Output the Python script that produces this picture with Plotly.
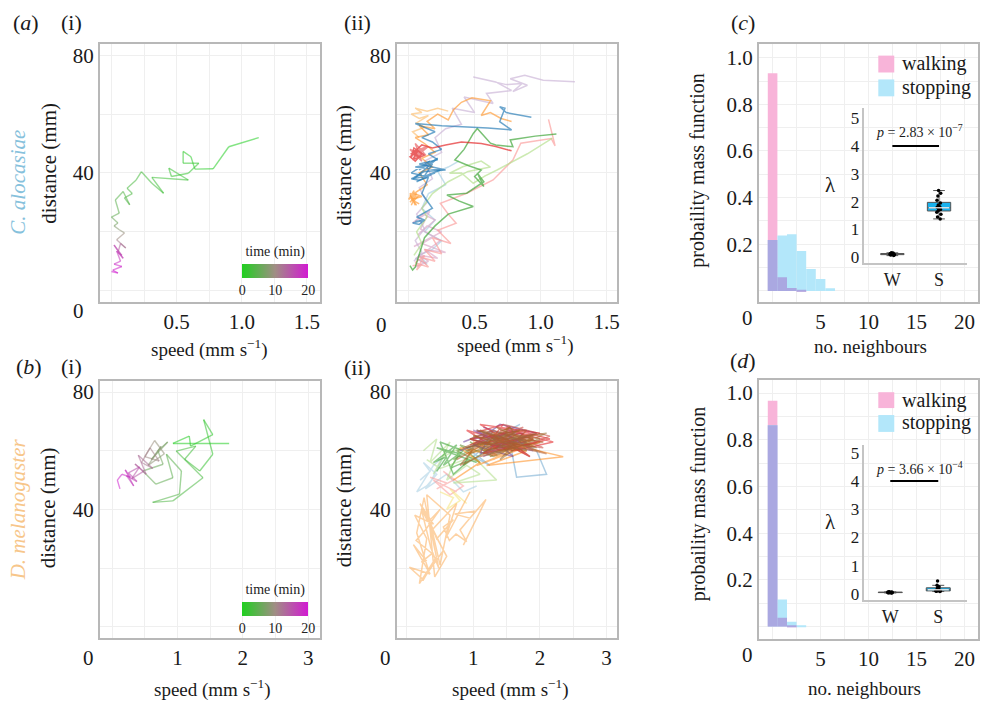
import plotly.graph_objects as go
import numpy as np

W, H = 982, 704
FONT = "Liberation Serif, Times New Roman, DejaVu Serif, serif"


def fx(p):
    return p / W


def fy(p):
    return 1 - p / H


# ---------------- data ----------------
# (a)(i) C. alocasiae single individual: speed, distance, time
a1_speed = [1.13, 0.90, 0.78, 0.64, 0.61, 0.55, 0.55, 0.67, 0.59, 0.46,
            0.44, 0.59, 0.31, 0.40, 0.31, 0.23, 0.19, 0.12, 0.16, 0.10,
            0.14, 0.09, 0.03, 0.06, 0.00, 0.05, 0.02, 0.06, 0.10, 0.04,
            0.11, 0.07, 0.05, 0.08, 0.02, 0.09, 0.04, 0.07, 0.02, 0.08,
            0.01, 0.05, 0.00]
a1_dist = [52.0, 48.9, 41.4, 41.3, 45.5, 47.3, 43.3, 43.3, 39.9, 38.8,
           41.6, 37.6, 38.5, 33.1, 36.5, 40.4, 37.6, 34.8, 33.0, 31.5,
           29.2, 33.7, 30.8, 26.3, 25.0, 23.0, 22.0, 20.7, 19.6, 17.3,
           14.5, 16.0, 13.0, 12.0, 15.5, 11.0, 13.5, 10.0, 9.0, 8.2,
           7.0, 6.0, 6.5]
a1_time = [0, 0.2, 0.4, 0.6, 0.8, 1.0, 1.2, 1.4, 1.6, 1.8,
           2.0, 2.2, 2.4, 2.6, 2.8, 3.0, 3.2, 3.4, 3.6, 3.8,
           4.0, 4.3, 4.6, 5.0, 5.5, 6.5, 7.5, 8.5, 9.5, 10.5,
           12.0, 13.0, 14.0, 15.0, 15.8, 16.5, 17.2, 17.8, 18.4, 19.0,
           19.4, 19.7, 20.0]

# (b)(i) D. melanogaster single individual
b1_speed = [1.79, 0.93, 1.18, 1.20, 1.54, 1.40, 1.54, 1.34, 1.11, 1.28,
            0.98, 1.39, 0.93, 0.62, 1.03, 1.06, 0.83, 0.93, 0.67, 0.47,
            0.78, 0.70, 0.85, 0.60, 0.75, 0.55, 0.80, 0.65, 0.50, 0.72,
            0.58, 0.45, 0.62, 0.40, 0.52, 0.35, 0.48, 0.30, 0.42, 0.25,
            0.38, 0.22, 0.33, 0.20, 0.28, 0.15, 0.08, 0.12]
b1_dist = [62.5, 62.5, 65.0, 61.6, 65.5, 70.6, 58.8, 53.1, 57.1, 61.6,
           59.9, 50.8, 42.9, 42.4, 45.2, 53.1, 58.8, 50.8, 48.6, 53.1,
           55.4, 60.0, 63.0, 57.0, 61.5, 55.0, 59.0, 63.5, 58.0, 56.5,
           61.0, 56.0, 54.0, 58.5, 52.0, 55.5, 53.0, 50.5, 54.5, 52.5,
           49.5, 51.5, 48.0, 53.5, 51.0, 52.0, 50.0, 47.0]
b1_time = [0, 0.3, 0.6, 0.9, 1.2, 1.5, 1.8, 2.1, 2.4, 2.7,
           3.0, 3.3, 3.6, 3.9, 4.2, 4.5, 4.8, 5.1, 5.4, 5.7,
           6.0, 6.5, 7.0, 7.5, 8.0, 8.5, 9.0, 9.5, 10.0, 10.5,
           11.0, 11.5, 12.0, 12.5, 13.0, 13.5, 14.0, 14.5, 15.0, 15.5,
           16.0, 16.5, 17.0, 17.5, 18.0, 18.7, 19.3, 20.0]

# (a)(ii) C. alocasiae, all individuals
a2_lpurple_x = [1.26, 1.02, 0.88, 0.77, 0.90, 0.79, 0.86, 0.74, 0.49, 0.66,
                0.78, 0.59, 0.64, 0.42, 0.50, 0.33, 0.40, 0.28, 0.20, 0.25,
                0.12, 0.18, 0.08, 0.14, 0.06, 0.12, 0.05, 0.10, 0.04]
a2_lpurple_y = [71.0, 71.5, 73.2, 72.0, 69.8, 67.6, 70.4, 70.0, 72.6, 70.9,
                68.0, 67.0, 63.6, 65.8, 60.5, 62.0, 56.5, 55.0, 52.0, 47.0,
                44.0, 38.0, 35.0, 30.0, 26.0, 21.0, 17.0, 13.0, 10.0]
a2_orange_x = [0.78, 0.70, 0.62, 0.55, 0.62, 0.48, 0.40, 0.34, 0.30, 0.22,
               0.14, 0.20, 0.08, 0.15, 0.05, 0.12, 0.20, 0.10, 0.18, 0.08,
               0.14, 0.04, 0.10, 0.02, 0.08, 0.04, 0.01, 0.06]
a2_orange_y = [57.5, 58.5, 60.5, 59.5, 64.5, 65.5, 64.0, 61.5, 58.0, 60.0,
               57.5, 55.0, 56.0, 53.0, 52.0, 50.0, 47.0, 45.0, 42.0, 40.0,
               36.0, 33.0, 32.0, 31.0, 29.5, 30.5, 32.5, 29.0]
a2_orange2_x = [0.01, 0.05, 0.02, 0.06, 0.00, 0.04, 0.03, 0.07, 0.01, 0.05]
a2_orange2_y = [30, 32, 29, 33, 31, 34, 30, 32, 33, 29]
a2_blue_x = [0.93, 0.74, 0.69, 0.73, 0.69, 0.78, 0.60, 0.41, 0.25, 0.05,
             0.12, 0.20, 0.10, 0.18, 0.25, 0.15, 0.22, 0.08, 0.18, 0.28,
             0.12, 0.04, 0.10, 0.02, 0.08, 0.15, 0.10, 0.18, 0.06, 0.12,
             0.03, 0.08, 0.12, 0.05]
a2_blue_y = [58.9, 60.5, 62.5, 62.0, 57.4, 54.6, 55.3, 55.7, 56.0, 56.8,
             55.5, 54.0, 52.0, 50.5, 48.0, 46.5, 44.5, 43.0, 42.0, 41.0,
             40.5, 38.5, 39.5, 38.0, 37.5, 38.5, 33.0, 28.0, 25.0, 24.0,
             23.0, 22.5, 24.0, 23.5]
a2_blue2_x = [0.03, 0.15, 0.06, 0.20, 0.10, 0.24, 0.05, 0.18, 0.12, 0.02,
              0.16, 0.08, 0.22, 0.04]
a2_blue2_y = [38, 39, 37, 40, 38.5, 41, 42, 43, 39, 40, 44, 41, 45, 38]
a2_green_x = [1.12, 0.96, 0.77, 0.79, 0.66, 0.62, 0.52, 0.49, 0.42, 0.35,
              0.45, 0.55, 0.50, 0.57, 0.52, 0.57, 0.44, 0.29, 0.38, 0.49,
              0.30, 0.20, 0.12, 0.08, 0.05, 0.03, 0.01]
a2_green_y = [53.2, 52.5, 51.2, 48.9, 49.5, 50.1, 55.1, 53.4, 48.0, 44.4,
              42.5, 41.0, 38.8, 35.4, 40.0, 37.0, 33.1, 32.5, 30.5, 28.6,
              26.0, 22.0, 18.0, 12.0, 8.0, 7.0, 8.5]
a2_red_x = [0.78, 0.66, 0.55, 0.40, 0.28, 0.18, 0.10, 0.04, 0.08, 0.02,
            0.06, 0.12, 0.03, 0.07, 0.01, 0.05, 0.10, 0.04, 0.02]
a2_red_y = [47.5, 49.0, 50.0, 50.5, 49.5, 48.5, 49.5, 47.0, 45.5, 46.5,
            48.0, 46.0, 44.5, 47.5, 45.5, 44.0, 46.5, 48.5, 45.0]
a2_red2_x = [0.02, 0.12, 0.04, 0.15, 0.06, 0.10, 0.01, 0.13, 0.05, 0.09, 0.03, 0.14]
a2_red2_y = [46, 48, 45, 49, 47, 44, 48, 46, 50, 45, 47, 49]
a2_pink_x = [1.06, 1.11, 1.08, 0.85, 0.79, 0.64, 0.44, 0.24, 0.30, 0.36,
             0.22, 0.32, 0.18, 0.25, 0.12, 0.20, 0.08, 0.15, 0.05, 0.12,
             0.06, 0.10, 0.03]
a2_pink_y = [58.2, 49.2, 51.7, 50.1, 44.4, 37.6, 33.1, 29.7, 26.0, 22.9,
             20.5, 16.0, 18.0, 12.5, 14.0, 10.0, 11.5, 8.0, 9.5, 12.0,
             7.0, 9.0, 8.5]
a2_mauve_x = [0.05, 0.15, 0.08, 0.22, 0.12, 0.28, 0.10, 0.18, 0.04, 0.25,
              0.14, 0.07, 0.20, 0.11, 0.03, 0.16, 0.09, 0.24, 0.06, 0.13]
a2_mauve_y = [8, 10, 12, 11, 14, 13, 16, 18, 15, 20, 22, 19, 24, 26, 23, 27, 21, 17, 11, 9]
a2_lgreen_x = [1.09, 0.90, 0.67, 0.58, 0.49, 0.40, 0.31, 0.41, 0.55, 0.62,
               0.45, 0.30, 0.18, 0.10, 0.14, 0.06, 0.10, 0.04]
a2_lgreen_y = [51.8, 46.5, 41.0, 39.0, 36.5, 40.0, 39.9, 42.1, 44.0, 42.0,
               40.5, 37.0, 33.0, 28.0, 25.0, 20.0, 16.0, 12.0]
a2_lorange_x = [0.30, 0.22, 0.14, 0.05, 0.10, 0.02, 0.08, 0.15, 0.06, 0.12, 0.03, 0.08]
a2_lorange_y = [61.0, 62.0, 61.0, 62.0, 60.5, 60.0, 58.5, 59.5, 57.0, 55.5, 54.0, 52.0]
a2_lblue_x = [0.38, 0.30, 0.22, 0.28, 0.15, 0.10, 0.20, 0.12, 0.25, 0.18, 0.08, 0.14, 0.05]
a2_lblue_y = [44.0, 42.0, 40.5, 36.0, 33.0, 28.0, 24.0, 20.0, 17.0, 14.0, 12.0, 9.0, 11.0]

# (b)(ii) D. melanogaster, all individuals
b2_lorange_x = [0.85, 1.19, 0.95, 0.72, 1.04, 0.80, 0.90, 0.74, 0.64, 0.55,
                0.70, 0.45, 0.34, 0.50, 0.28, 0.14, 0.38, 0.22, 0.29, 0.10,
                0.35, 0.04, 0.25, 0.45, 0.19, 0.30, 0.12, 0.40, 0.20, 0.55,
                0.33, 0.15, 0.26, 0.48, 0.36, 0.22, 0.60, 0.42, 0.30, 0.65,
                0.50, 0.38, 0.75, 0.58, 0.95]
b2_lorange_y = [27.8, 43.4, 37.0, 38.4, 39.5, 33.0, 29.0, 31.6, 29.4, 34.0,
                36.5, 30.0, 36.2, 40.0, 33.0, 29.4, 25.0, 22.0, 22.6, 28.0,
                18.0, 20.3, 16.0, 24.0, 14.7, 30.0, 38.0, 35.0, 42.0, 26.0,
                19.0, 32.0, 44.0, 20.0, 27.0, 40.0, 24.0, 17.0, 45.0, 38.0,
                21.0, 33.0, 42.0, 30.0, 46.0]
b2_lblue_x = [0.20, 0.35, 0.25, 0.45, 0.30, 0.15, 0.40, 0.55, 0.35, 0.28, 0.60, 0.85, 1.05]
b2_lblue_y = [50, 53, 56, 52, 48, 46, 55, 58, 49, 47, 52, 46, 48]
b2_pink_x = [0.35, 0.60, 0.45, 0.70, 0.55, 0.85, 0.65, 0.40, 0.75]
b2_pink_y = [51, 49, 47, 50, 53, 48, 45, 50, 46]
b2_yellow_x = [0.50, 0.70, 0.60, 0.80, 0.65, 0.90]
b2_yellow_y = [46, 44, 40, 43, 47, 42]
b2_lgreen_x = [0.25, 0.45, 0.35, 0.65, 0.40, 0.55, 0.80, 0.60, 0.90, 1.10,
               0.70, 1.35, 1.00, 0.50, 0.30]
b2_lgreen_y = [60, 64, 56, 63, 52, 58, 61, 50, 55, 52, 49, 50, 58, 54, 57]
b2_green_x = [0.45, 0.60, 0.40, 0.75, 0.55, 0.85, 0.50, 0.70, 0.95, 0.65, 0.80, 0.45, 1.05]
b2_green_y = [53, 58, 56, 62, 55, 60, 63, 52, 57, 54, 59, 61, 56]
b2_green2_x = [0.70, 1.00, 0.85, 1.20, 0.95, 1.30, 0.80, 1.10, 0.75, 1.25]
b2_green2_y = [57, 61, 55, 60, 63, 58, 62, 56, 60, 63]
b2_blue_x = [1.20, 1.55, 1.65, 2.10, 1.95, 1.80, 1.45, 1.70, 1.30, 1.00, 1.25, 0.90, 1.50]
b2_blue_y = [60, 63, 51, 52, 60, 62, 66, 69, 64, 58, 55, 61, 65]
b2_orange_x = [0.70, 1.10, 0.80, 1.40, 1.00, 1.80, 1.20, 2.35, 1.60, 1.30,
               1.90, 0.90, 1.50, 1.70, 1.05, 2.00, 1.35]
b2_orange_y = [50, 56, 61, 58, 63, 60, 55, 58, 62, 57, 64, 59, 66, 61, 55, 63, 60]
b2_purple_x = [0.85, 1.30, 1.10, 1.70, 1.20, 1.95, 1.40, 1.00, 1.60, 1.25,
               1.85, 1.05, 1.50, 1.75, 0.95, 1.45, 1.80, 1.15]
b2_purple_y = [63, 67, 59, 64, 61, 66, 69, 62, 58, 65, 62, 67, 60, 66, 64, 61, 63, 68]
b2_purple2_x = [0.80, 1.25, 1.00, 1.55, 1.15, 1.80, 1.35, 1.65, 1.05, 1.90, 1.45, 1.20, 1.75, 1.30]
b2_purple2_y = [60, 64, 67, 62, 58, 65, 61, 67, 63, 60, 66, 59, 64, 62]
b2_red_x = [1.00, 1.45, 1.20, 1.90, 1.35, 2.20, 1.60, 0.95, 1.75, 1.30,
            2.00, 1.10, 1.55, 1.85, 1.25, 1.70, 0.90, 1.40, 2.15, 1.50]
b2_red_y = [66, 69, 62, 65, 68, 63, 60, 64, 67, 61, 66, 69, 63, 58, 65, 62, 67, 60, 64, 68]
b2_red2_x = [1.10, 1.60, 1.30, 1.95, 1.45, 2.15, 1.70, 1.20, 1.85, 1.50,
             0.95, 1.75, 1.35, 2.05, 1.55, 1.15, 1.90, 1.40]
b2_red2_y = [64, 67, 60, 63, 69, 65, 61, 66, 58, 64, 62, 68, 63, 61, 66, 59, 64, 67]
b2_brown_x = [0.75, 1.20, 0.90, 1.60, 1.10, 1.85, 1.30, 0.95, 1.70, 1.40,
              2.05, 1.15, 1.55, 0.85, 1.75, 1.25, 1.95, 1.05, 1.50, 1.80,
              1.00, 1.65, 1.35, 2.10, 1.20, 0.80, 1.45, 1.90, 1.10, 1.60]
b2_brown_y = [57, 63, 60, 66, 58, 62, 67, 64, 60, 65, 63, 59, 68, 61, 64,
              58, 66, 62, 60, 67, 65, 61, 63, 59, 66, 55, 62, 64, 67, 60]
b2_brown2_x = [0.90, 1.40, 1.05, 1.75, 1.25, 2.00, 1.50, 1.15, 1.85, 1.35,
               1.95, 1.00, 1.60, 1.30, 2.10, 1.45, 0.95, 1.70, 1.20, 1.80,
               1.55, 1.10, 1.90, 1.40, 1.65]
b2_brown2_y = [61, 65, 67, 62, 59, 64, 66, 60, 63, 68, 61, 65, 62, 58, 66,
               64, 59, 67, 63, 60, 68, 62, 65, 57, 63]

# (c)/(d) histograms: number of neighbours
nbr_bins = [0, 1, 2, 3, 4, 5, 6]
c_walking = [0.933, 0.058, 0.012, 0.005, 0.0, 0.0, 0.0]
c_stopping = [0.218, 0.238, 0.243, 0.171, 0.094, 0.051, 0.011]
d_walking = [0.967, 0.038, 0.003, 0.0, 0.0, 0.0, 0.0]
d_stopping = [0.862, 0.116, 0.021, 0.004, 0.0, 0.0, 0.0]

# insets: lambda per individual
c_lambda_W = [0.06, 0.08, 0.09, 0.10, 0.10, 0.11, 0.12, 0.12, 0.13, 0.14, 0.15, 0.16]
c_lambda_S = [1.38, 1.45, 1.55, 1.62, 1.68, 1.72, 1.75, 1.78, 1.78, 1.80,
              1.82, 1.88, 1.95, 2.05, 2.20, 2.30, 2.40]
d_lambda_W = [0.03, 0.04, 0.04, 0.05, 0.05, 0.05, 0.05, 0.05, 0.06, 0.06, 0.06, 0.07, 0.05, 0.04, 0.05]
d_lambda_S = [0.08, 0.09, 0.10, 0.10, 0.11, 0.12, 0.13, 0.14, 0.15, 0.17, 0.19, 0.22, 0.25, 0.30, 0.45]
c_pvalue = "2.83 × 10<sup>−7</sup>"
d_pvalue = "3.66 × 10<sup>−4</sup>"

# ---------------- styling helpers ----------------
TIME_STOPS = [(0.0, (31, 208, 31)), (0.5, (160, 142, 132)), (1.0, (210, 26, 210))]
TIME_CS = [[0, "rgb(31,208,31)"], [0.5, "rgb(160,142,132)"], [1, "rgb(210,26,210)"]]


def time_colour(t, tmax=20.0):
    f = min(max(t / tmax, 0), 1)
    for (f0, c0), (f1, c1) in zip(TIME_STOPS[:-1], TIME_STOPS[1:]):
        if f <= f1:
            u = (f - f0) / (f1 - f0)
            c = [round(a + (b - a) * u) for a, b in zip(c0, c1)]
            return "rgb(%d,%d,%d)" % tuple(c)
    return "rgb(210,26,210)"


fig = go.Figure()


def add_time_track(sp, di, tm, xa, ya, cb_x, cb_y):
    for i in range(len(sp) - 1):
        fig.add_trace(go.Scatter(
            x=[sp[i], sp[i + 1]], y=[di[i], di[i + 1]], mode="lines",
            line=dict(color=time_colour((tm[i] + tm[i + 1]) / 2), width=1.4),
            opacity=0.55, xaxis=xa, yaxis=ya, showlegend=False, hoverinfo="skip"))
    fig.add_trace(go.Scatter(
        x=[sp[0]], y=[di[0]], mode="markers", xaxis=xa, yaxis=ya, showlegend=False,
        hoverinfo="skip",
        marker=dict(size=1, opacity=0, color=[0], cmin=0, cmax=20, colorscale=TIME_CS,
                    showscale=True,
                    colorbar=dict(orientation="h", x=fx(cb_x), xanchor="center",
                                  y=fy(cb_y), yanchor="top", len=66, lenmode="pixels",
                                  thickness=14, thicknessmode="pixels", outlinewidth=0,
                                  xpad=0, ypad=0, tickvals=[0, 10, 20], ticks="",
                                  tickfont=dict(family=FONT, size=14, color="#222"),
                                  title=dict(text="time (min)", side="top",
                                             font=dict(family=FONT, size=14, color="#222"))))))


add_time_track(a1_speed, a1_dist, a1_time, "x", "y", 276, 249)
add_time_track(b1_speed, b1_dist, b1_time, "x4", "y4", 276, 589)

a2_tracks = [
    (a2_lblue_x, a2_lblue_y, "#a6cee3"),
    (a2_mauve_x, a2_mauve_y, "#dba6c6"),
    (a2_lpurple_x, a2_lpurple_y, "#cab2d6"),
    (a2_pink_x, a2_pink_y, "#fb9a99"),
    (a2_lgreen_x, a2_lgreen_y, "#b2df8a"),
    (a2_lorange_x, a2_lorange_y, "#fdbf6f"),
    (a2_orange_x, a2_orange_y, "#ff9a33"),
    (a2_orange2_x, a2_orange2_y, "#ff9a33"),
    (a2_green_x, a2_green_y, "#33a02c"),
    (a2_blue_x, a2_blue_y, "#1f78b4"),
    (a2_blue2_x, a2_blue2_y, "#1f78b4"),
    (a2_red_x, a2_red_y, "#e31a1c"),
    (a2_red2_x, a2_red2_y, "#e8595a"),
]
for xs, ys, col in a2_tracks:
    fig.add_trace(go.Scatter(x=xs, y=ys, mode="lines", line=dict(color=col, width=1.5),
                             opacity=0.65, xaxis="x2", yaxis="y2", showlegend=False,
                             hoverinfo="skip"))

b2_tracks = [
    (b2_lblue_x, b2_lblue_y, "#a6cee3"),
    (b2_pink_x, b2_pink_y, "#fb9a99"),
    (b2_yellow_x, b2_yellow_y, "#f5e37a"),
    (b2_lgreen_x, b2_lgreen_y, "#b2df8a"),
    (b2_green_x, b2_green_y, "#33a02c"),
    (b2_lorange_x, b2_lorange_y, "#fdae5a"),
    (b2_blue_x, b2_blue_y, "#6fa8d0"),
    (b2_green2_x, b2_green2_y, "#5b8f2a"),
    (b2_orange_x, b2_orange_y, "#ff8c1a"),
    (b2_purple_x, b2_purple_y, "#6a3d9a"),
    (b2_red_x, b2_red_y, "#e31a1c"),
    (b2_purple2_x, b2_purple2_y, "#8a5aa8"),
    (b2_brown_x, b2_brown_y, "#b15928"),
    (b2_red2_x, b2_red2_y, "#c8453a"),
    (b2_brown2_x, b2_brown2_y, "#9a6a2a"),
]
for xs, ys, col in b2_tracks:
    fig.add_trace(go.Scatter(x=xs, y=ys, mode="lines", line=dict(color=col, width=1.5),
                             opacity=0.55, xaxis="x5", yaxis="y5", showlegend=False,
                             hoverinfo="skip"))

PINK, BLUE, OVERLAP = "#f8b4d9", "#b3e7fa", "#aaa8e1"


def add_hist(walk, stop, xa, ya):
    both = np.minimum(walk, stop)
    for vals, col in [(walk, PINK), (stop, BLUE), (both, OVERLAP)]:
        fig.add_trace(go.Bar(x=nbr_bins, y=vals, width=1.0, marker=dict(color=col, line=dict(width=0)),
                             xaxis=xa, yaxis=ya, showlegend=False, hoverinfo="skip"))


add_hist(c_walking, c_stopping, "x3", "y3")
add_hist(d_walking, d_stopping, "x6", "y6")


def add_boxes(wv, sv, xa, ya):
    for pos, vals, fill in [(0, wv, "#cfcfcf"), (1, sv, "#19b2ee")]:
        fig.add_trace(go.Box(x=[pos] * len(vals), y=vals, width=0.5, fillcolor=fill,
                             line=dict(color="#555555", width=1), boxpoints="all",
                             jitter=0.25, pointpos=0,
                             marker=dict(color="black", size=3.5),
                             xaxis=xa, yaxis=ya, showlegend=False, hoverinfo="skip"))
    med = float(np.median(sv))
    fig.add_trace(go.Scatter(x=[0.78, 1.22], y=[med, med], mode="lines",
                             line=dict(color="rgba(255,255,255,0.8)", width=1.5),
                             xaxis=xa, yaxis=ya, showlegend=False, hoverinfo="skip"))
    fig.add_trace(go.Scatter(x=[0, 1], y=[4, 4], mode="lines", line=dict(color="black", width=2),
                             xaxis=xa, yaxis=ya, showlegend=False, hoverinfo="skip"))


add_boxes(c_lambda_W, c_lambda_S, "x7", "y7")
add_boxes(d_lambda_W, d_lambda_S, "x8", "y8")


# ---------------- axes ----------------
def main_axis(dom, rng, tv, tt, anchor):
    return dict(domain=dom, range=rng, tickvals=tv, ticktext=tt, anchor=anchor,
                showline=True, mirror=True, linecolor="#b8b8b8", linewidth=1.5,
                showgrid=True, gridcolor="#efefef", gridwidth=1, zeroline=False,
                ticks="", tickfont=dict(family=FONT, size=21, color="#1a1a1a"),
                fixedrange=True)


def inset_axis(dom, rng, tv, tt, anchor, size):
    return dict(domain=dom, range=rng, tickvals=tv, ticktext=tt, anchor=anchor,
                showline=True, mirror=False, linecolor="#c4c4c4", linewidth=1.5,
                showgrid=False, zeroline=False, ticks="",
                tickfont=dict(family=FONT, size=size, color="#1a1a1a"), fixedrange=True)


xs_a = [0, 0.25, 0.5, 0.75, 1.0, 1.25, 1.5]
xt_a = [" ", " ", "0.5", " ", "1.0", " ", "1.5"]
xs_b = [0, 0.5, 1, 1.5, 2, 2.5, 3]
xt_b = [" ", " ", "1", " ", "2", " ", "3"]
ys_tr = [0, 20, 40, 60, 80]
yt_tr = [" ", " ", "40", " ", "80"]
xs_h = [0, 2.5, 5, 7.5, 10, 12.5, 15, 17.5, 20]
xt_h = [" ", " ", "5", " ", "10", " ", "15", " ", "20"]
ys_h = [0, 0.1, 0.2, 0.3, 0.4, 0.5, 0.6, 0.7, 0.8, 0.9, 1.0]
yt_h = [" ", " ", "0.2", " ", "0.4", " ", "0.6", " ", "0.8", " ", "1.0"]

top_y = [fy(303), fy(43)]
bot_y = [fy(642), fy(383)]
col1 = [fx(100), fx(321)]
col2 = [fx(398), fx(619)]
col3 = [fx(761), fx(981)]

layout = dict(
    width=W, height=H, margin=dict(l=0, r=0, t=0, b=0),
    paper_bgcolor="white", plot_bgcolor="rgba(0,0,0,0)",
    barmode="overlay", showlegend=False,
    font=dict(family=FONT, color="#1a1a1a"),
    xaxis=main_axis(col1, [-0.09, 1.6], xs_a, xt_a, "y"),
    yaxis=main_axis(top_y, [-3.8, 83.9], ys_tr, yt_tr, "x"),
    xaxis2=main_axis(col2, [-0.09, 1.58], xs_a, xt_a, "y2"),
    yaxis2=main_axis(top_y, [-3.8, 83.9], ys_tr, yt_tr, "x2"),
    xaxis3=main_axis(col3, [-1.45, 21.4], xs_h, xt_h, "y3"),
    yaxis3=main_axis(top_y, [-0.047, 1.06], ys_h, yt_h, "x3"),
    xaxis4=main_axis(col1, [-0.19, 3.18], xs_b, xt_b, "y4"),
    yaxis4=main_axis(bot_y, [-4.0, 83.7], ys_tr, yt_tr, "x4"),
    xaxis5=main_axis(col2, [-0.15, 3.16], xs_b, xt_b, "y5"),
    yaxis5=main_axis(bot_y, [-4.0, 83.7], ys_tr, yt_tr, "x5"),
    xaxis6=main_axis(col3, [-1.45, 21.4], xs_h, xt_h, "y6"),
    yaxis6=main_axis([fy(643), fy(382)], [-0.055, 1.055], ys_h, yt_h, "x6"),
    xaxis7=inset_axis([fx(867), fx(970)], [-0.6, 1.6], [0, 1], ["W", "S"], "y7", 18),
    yaxis7=inset_axis([fy(264), fy(108)], [-0.21, 5.36], [0, 1, 2, 3, 4, 5],
                      ["0", "1", "2", "3", "4", "5"], "x7", 17),
    xaxis8=inset_axis([fx(867), fx(970)], [-0.54, 1.6], [0, 1], ["W", "S"], "y8", 18),
    yaxis8=inset_axis([fy(603), fy(447)], [-0.21, 5.28], [0, 1, 2, 3, 4, 5],
                      ["0", "1", "2", "3", "4", "5"], "x8", 17),
)
fig.update_layout(**layout)

# ---------------- text annotations ----------------
ann = []


def text(x, y, s, size=21, color="#1a1a1a", angle=0, xanchor="center"):
    ann.append(dict(x=fx(x), y=fy(y), xref="paper", yref="paper", text=s, showarrow=False,
                    textangle=angle, xanchor=xanchor, yanchor="middle",
                    font=dict(family=FONT, size=size, color=color)))


for x, y, s in [(26, 22, "(<i>a</i>)"), (72, 22, "(i)"), (359, 22, "(ii)"), (745, 22, "(<i>c</i>)"),
                (29, 368, "(<i>b</i>)"), (72, 368, "(i)"), (359, 369, "(ii)"), (745, 362, "(<i>d</i>)")]:
    text(x, y, s, size=22)

text(18, 182, "<i>C. alocasiae</i>", color="#86c1dc", angle=-90)
text(18, 512, "<i>D. melanogaster</i>", color="#f7c68a", angle=-90)
for x, y in [(49, 163), (345, 165), (49, 510), (345, 509)]:
    text(x, y, "distance (mm)", angle=-90)
for x, y in [(700, 171), (701, 507)]:
    text(x, y, "probaility mass function", size=20, angle=-90)
for x, y in [(210, 350), (517, 346), (213, 692), (512, 692)]:
    text(x, y, "speed (mm s<sup>−1</sup>)", size=19)
for x, y in [(873, 348), (867, 692)]:
    text(x, y, "no. neighbours", size=19)
for x, y in [(79, 312), (383, 326), (750, 319), (89, 662), (387, 662), (750, 659)]:
    text(x, y, "0")
for y in [185, 525]:
    text(833, y, "λ", size=21)
text(922, 131, "<i>p</i> = " + c_pvalue, size=14)
text(922, 470, "<i>p</i> = " + d_pvalue, size=14)

# legends
shapes = []
for (y0, y1, col, lbl, ty) in [(55, 72, PINK, "walking", 63), (79, 96, BLUE, "stopping", 87),
                                (394, 410, PINK, "walking", 402), (417, 434, BLUE, "stopping", 425)]:
    shapes.append(dict(type="rect", xref="paper", yref="paper", x0=fx(881), x1=fx(897),
                       y0=fy(y1), y1=fy(y0), fillcolor=col, line=dict(width=0)))
    text(903, ty, lbl, size=20, xanchor="left")

fig.update_layout(annotations=ann, shapes=shapes)
fig.write_html("out.html")
